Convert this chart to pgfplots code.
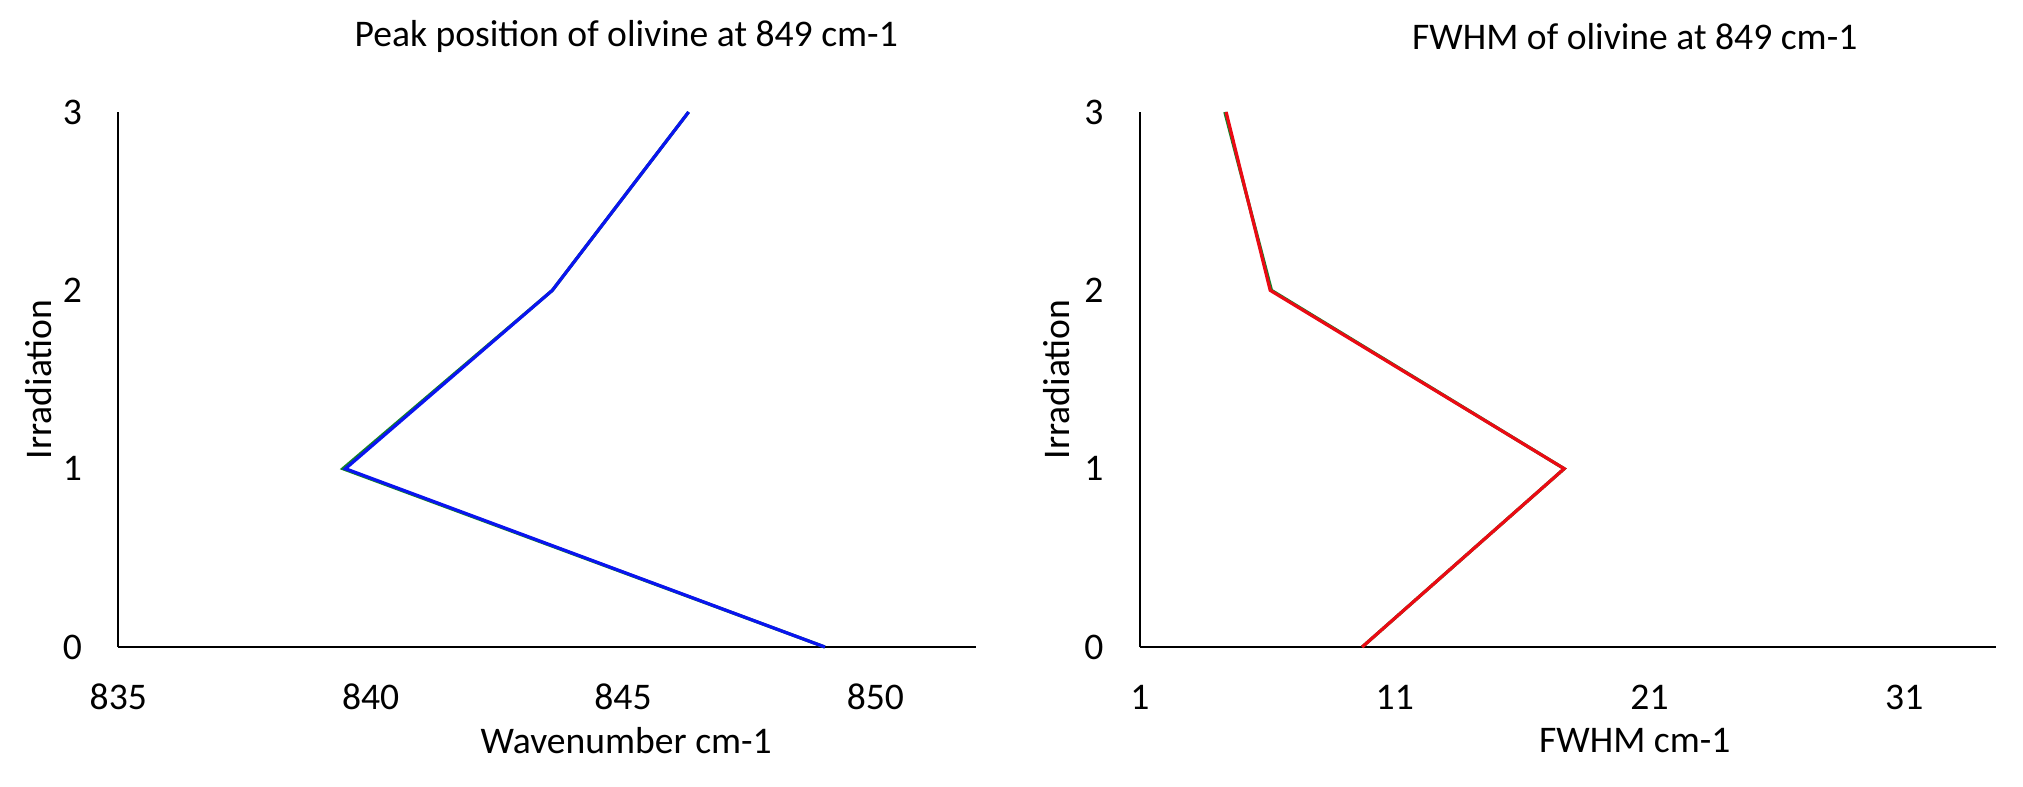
\documentclass[border=0pt]{standalone}
\usepackage{pgfplots}
\pgfplotsset{compat=1.18}
\usepackage{fontspec}
\setmainfont{Carlito}
\definecolor{lblue}{RGB}{10,20,240}
\definecolor{lred}{RGB}{235,10,20}
\definecolor{lgreen}{RGB}{20,130,40}
\begin{document}
\fontsize{9.4}{11}\selectfont
\begin{tikzpicture}
\path[use as bounding box] (0,0) rectangle (505.75pt,196.5pt);
\pgfplotsset{
  every axis/.append style={
    scale only axis,
    height=133.75pt,
    axis lines*=left,
    axis line style={black, line width=0.5pt},
    major tick length=0pt,
    ymin=0, ymax=3,
    ytick={0,1,2,3},
    yticklabels={0,1,2,3},
    xticklabel style={anchor=center, yshift=-12.5pt},
    yticklabel style={anchor=center, xshift=-11.5pt},
    clip=false,
  },
}
\begin{axis}[
  at={(29.575pt,34.75pt)}, anchor=south west,
  width=214.5pt,
  xmin=835, xmax=852,
  xtick={835,840,845,850},
  xticklabels={835,840,845,850},
  title={Peak position of olivine at 849 cm-1},
  title style={at={(axis description cs:0.592,1.097)}, anchor=center},
  xlabel={Wavenumber cm-1},
  xlabel style={at={(axis description cs:0.592,-0.174)}, anchor=center},
  ylabel={Irradiation},
  ylabel style={at={(axis description cs:-0.093,0.5)}, anchor=center, rotate=0},
]
\addplot[lgreen, line width=0.8pt] coordinates {(849.0,0) (839.45,1) (843.6,2) (846.3,3)};
\addplot[lblue, line width=0.8pt] coordinates {(849.0,0) (839.5,1) (843.6,2) (846.3,3)};
\end{axis}
\begin{axis}[
  at={(285pt,34.75pt)}, anchor=south west,
  width=214pt,
  xmin=1, xmax=34.6,
  xtick={1,11,21,31},
  xticklabels={1,11,21,31},
  title={FWHM of olivine at 849 cm-1},
  title style={at={(axis description cs:0.578,1.097)}, anchor=center},
  xlabel={FWHM cm-1},
  xlabel style={at={(axis description cs:0.578,-0.174)}, anchor=center},
  ylabel={Irradiation},
  ylabel style={at={(axis description cs:-0.097,0.5)}, anchor=center, rotate=0},
]
\addplot[lgreen, line width=0.8pt] coordinates {(9.72,0) (17.65,1) (6.16,2) (4.33,3)};
\addplot[lred, line width=0.8pt] coordinates {(9.72,0) (17.65,1) (6.11,2) (4.38,3)};
\end{axis}
\end{tikzpicture}
\end{document}
